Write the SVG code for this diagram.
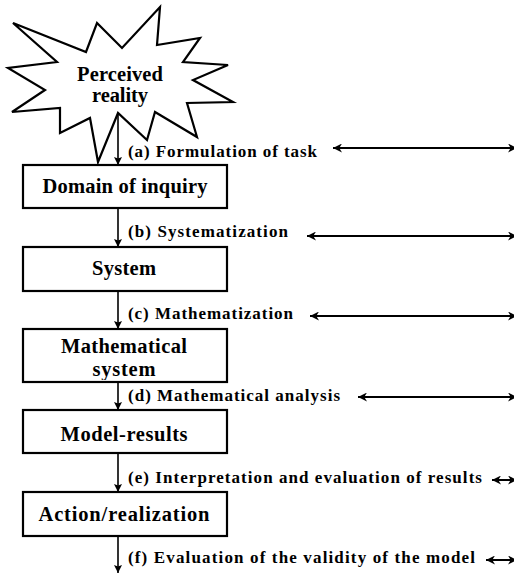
<svg xmlns="http://www.w3.org/2000/svg" width="514" height="573" viewBox="0 0 514 573">
<style>
.box{fill:#fff;stroke:#000;stroke-width:2.2}
.t{font-family:"Liberation Serif","DejaVu Serif",serif;font-weight:bold;font-size:20.5px;fill:#000;text-anchor:middle}
.lb{font-family:"Liberation Serif","DejaVu Serif",serif;font-weight:bold;font-size:17px;fill:#000}
.v{stroke:#000;stroke-width:1.6;marker-end:url(#ah)}
.d{stroke:#000;stroke-width:2;marker-start:url(#dl);marker-end:url(#dr)}
</style>
<defs>
<marker id="ah" viewBox="0 0 10 10" refX="10" refY="5" markerWidth="5" markerHeight="5" orient="auto" markerUnits="strokeWidth">
<path d="M0,0 L10,5 L0,10 L2,5 z" fill="#000"/>
</marker>
<marker id="dr" viewBox="0 0 10 10" refX="10" refY="5" markerWidth="5" markerHeight="4.5" orient="auto" markerUnits="strokeWidth">
<path d="M0,0 L10,5 L0,10 L3,5 z" fill="#000"/>
</marker>
<marker id="dl" viewBox="0 0 10 10" refX="0" refY="5" markerWidth="5" markerHeight="4.5" orient="auto" markerUnits="strokeWidth">
<path d="M10,0 L0,5 L10,10 L7,5 z" fill="#000"/>
</marker>
<clipPath id="c3"><rect x="23" y="329" width="204" height="51"/></clipPath>
</defs>
<g id="node-perceived">
<polygon points="13,23 86,52 97,23 122,48 160,7 157,45 200,38 183,62 228,65 193,80 233,102 187,103 197,137 155,112 147,140 118,113 98,162 90,118 60,133 60,108 12,112 45,90 8,68 57,62" fill="#fff" stroke="#000" stroke-width="2.2" stroke-linejoin="miter"/>
<text class="t" x="120" y="81" font-size="19.5" textLength="86">Perceived</text>
<text class="t" x="120" y="102" font-size="19.5" textLength="56">reality</text>
</g>
<g id="connectors">
<line class="v" x1="118" y1="113" x2="118" y2="165"/>
<line class="v" x1="118" y1="209" x2="118" y2="247"/>
<line class="v" x1="118" y1="291" x2="118" y2="329"/>
<line class="v" x1="118" y1="382" x2="118" y2="410"/>
<line class="v" x1="118" y1="453" x2="118" y2="492"/>
<line class="v" x1="118" y1="536" x2="118" y2="573"/>
<line class="d" x1="333" y1="148" x2="517" y2="148"/>
<line class="d" x1="307" y1="236" x2="517" y2="236"/>
<line class="d" x1="310" y1="316" x2="517" y2="316"/>
<line class="d" x1="358" y1="397" x2="517" y2="397"/>
<line class="d" x1="492" y1="480" x2="517" y2="480"/>
<line class="d" x1="486" y1="560" x2="517" y2="560"/>
<text class="lb" x="128" y="157" textLength="189">(a) Formulation of task</text>
<text class="lb" x="128" y="237" textLength="160">(b) Systematization</text>
<text class="lb" x="128" y="319" textLength="165">(c) Mathematization</text>
<text class="lb" x="128" y="401" textLength="212">(d) Mathematical analysis</text>
<text class="lb" x="128" y="483" textLength="354">(e) Interpretation and evaluation of results</text>
<text class="lb" x="128" y="563" textLength="347">(f) Evaluation of the validity of the model</text>
</g>
<g id="node-domain">
<rect class="box" x="23" y="165" width="204" height="43"/>
<text class="t" x="125" y="193" textLength="165">Domain of inquiry</text>
</g>
<g id="node-system">
<rect class="box" x="23" y="247" width="204" height="44"/>
<text class="t" x="124" y="275" textLength="64">System</text>
</g>
<g id="node-math">
<rect class="box" x="23" y="329" width="204" height="53"/>
<g clip-path="url(#c3)">
<text class="t" x="124" y="353" textLength="126">Mathematical</text>
<text class="t" x="124" y="376" textLength="63">system</text>
</g>
</g>
<g id="node-model">
<rect class="box" x="23" y="410" width="204" height="43"/>
<text class="t" x="124" y="441" textLength="127">Model-results</text>
</g>
<g id="node-action">
<rect class="box" x="23" y="492" width="204" height="44"/>
<text class="t" x="124" y="521" textLength="171">Action/realization</text>
</g>
</svg>
